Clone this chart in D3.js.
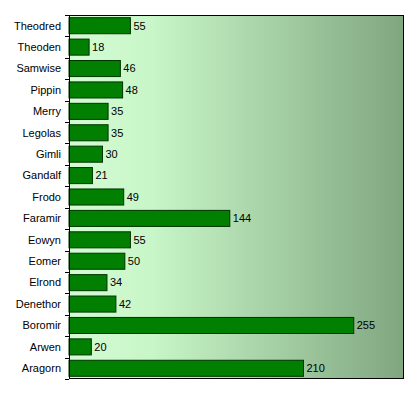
<!DOCTYPE html>
<html>
<head>
<meta charset="utf-8">
<script src="https://d3js.org/d3.v7.min.js"></script>
<style>
  body { margin: 0; background: #fff; }
  text { font-family: Arial, "Liberation Sans", sans-serif; font-size: 11px; fill: #000; }
</style>
</head>
<body>
<div id="chart"></div>
<script>
// categories top to bottom, with the counts
var names = ["Theodred", "Theoden", "Samwise", "Pippin", "Merry", "Legolas", "Gimli", "Gandalf",
             "Frodo", "Faramir", "Eowyn", "Eomer", "Elrond", "Denethor", "Boromir", "Arwen", "Aragorn"];
var counts = [55, 18, 46, 48, 35, 35, 30, 21, 49, 144, 55, 50, 34, 42, 255, 20, 210];

var width = 420, height = 397;
var margin = {top: 15, right: 16, bottom: 18, left: 69};
var w = width - margin.left - margin.right,
    h = height - margin.top - margin.bottom;

var svg = d3.select("#chart").append("svg")
    .attr("width", width)
    .attr("height", height);

var defs = svg.append("defs");
var grad = defs.append("linearGradient")
    .attr("id", "bg")
    .attr("x1", "0%").attr("x2", "100%").attr("y1", "0%").attr("y2", "0%");
grad.append("stop").attr("offset", "0%").attr("stop-color", "#d4fcd4");
grad.append("stop").attr("offset", "25%").attr("stop-color", "#c8f6c8");
grad.append("stop").attr("offset", "100%").attr("stop-color", "#80a680");

var g = svg.append("g").attr("transform", "translate(" + margin.left + "," + margin.top + ")");

var x = d3.scaleLinear().domain([0, 300]).range([0, w]);
var y = d3.scaleBand().domain(names).range([0, h]).paddingInner(0.25).paddingOuter(0.125);

g.append("rect")
    .attr("width", w)
    .attr("height", h)
    .attr("fill", "url(#bg)");

g.selectAll(".bar")
    .data(names)
    .enter().append("rect")
    .attr("class", "bar")
    .attr("x", 0)
    .attr("y", function(d) { return y(d); })
    .attr("width", function(d, i) { return x(counts[i]); })
    .attr("height", y.bandwidth())
    .attr("fill", "#007f00")
    .attr("stroke", "#003300")
    .attr("stroke-width", 1);

g.selectAll(".val")
    .data(names)
    .enter().append("text")
    .attr("class", "val")
    .attr("x", function(d, i) { return x(counts[i]) + 3; })
    .attr("y", function(d) { return y(d) + y.bandwidth() / 2; })
    .attr("dy", "0.35em")
    .text(function(d, i) { return counts[i]; });

// ticks at band boundaries
var step = h / names.length;
var bounds = d3.range(names.length + 1).map(function(i) { return i * step; });
g.selectAll(".tick")
    .data(bounds)
    .enter().append("line")
    .attr("x1", -4).attr("x2", 0)
    .attr("y1", function(d) { return Math.round(d) + 0.5; })
    .attr("y2", function(d) { return Math.round(d) + 0.5; })
    .attr("stroke", "#000");

g.selectAll(".lbl")
    .data(names)
    .enter().append("text")
    .attr("class", "lbl")
    .attr("x", -8)
    .attr("y", function(d) { return y(d) + y.bandwidth() / 2; })
    .attr("dy", "0.35em")
    .attr("text-anchor", "end")
    .text(function(d) { return d; });

g.append("rect")
    .attr("x", 0.5).attr("y", 0.5)
    .attr("width", w - 1)
    .attr("height", h - 1)
    .attr("fill", "none")
    .attr("stroke", "#000");
</script>
</body>
</html>
